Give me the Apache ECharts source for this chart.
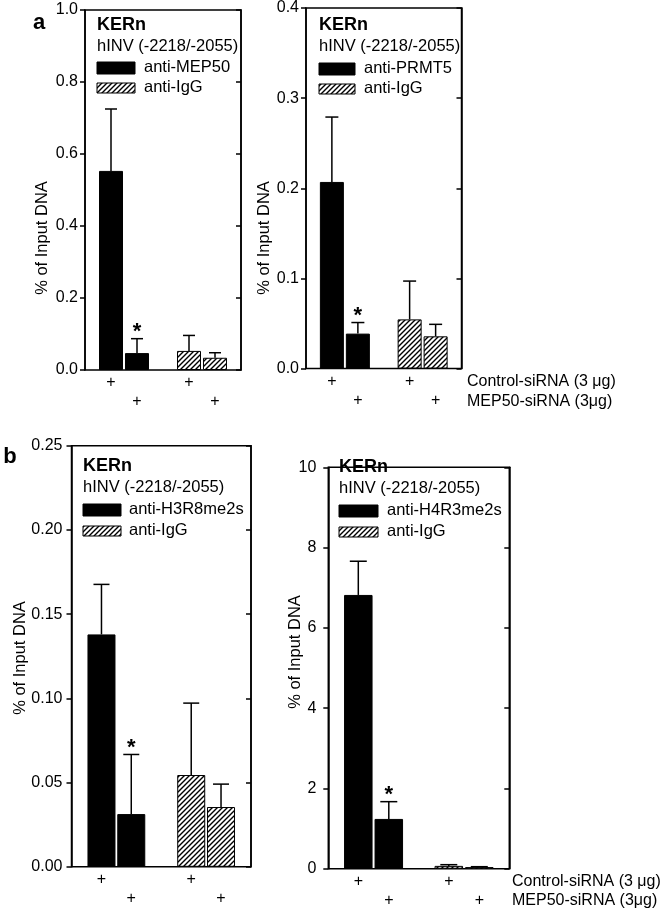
<!DOCTYPE html>
<html>
<head>
<meta charset="utf-8">
<script src="https://cdn.jsdelivr.net/npm/echarts@6/dist/echarts.min.js"></script>
<style>
html,body{margin:0;padding:0;background:#fff;}
#chart{width:669px;height:912px;}
</style>
</head>
<body>
<div id="chart"></div>
<script>
// ---------- DATA ----------
const groupCategories = ['specific', 'IgG'];

// Panel a (left): anti-MEP50 vs anti-IgG
const aL_antibody = 'anti-MEP50';
const aL_control = [0.553, 0.053];
const aL_controlErr = [0.172, 0.043];
const aL_mep50 = [0.047, 0.034];
const aL_mep50Err = [0.040, 0.014];
const aL_mep50Star = [true, false];
const aL_yTicks = ['0.0', '0.2', '0.4', '0.6', '0.8', '1.0'];

// Panel a (right): anti-PRMT5 vs anti-IgG
const aR_antibody = 'anti-PRMT5';
const aR_control = [0.207, 0.0545];
const aR_controlErr = [0.072, 0.0425];
const aR_mep50 = [0.0387, 0.0357];
const aR_mep50Err = [0.0123, 0.0133];
const aR_mep50Star = [true, false];
const aR_yTicks = ['0.0', '0.1', '0.2', '0.3', '0.4'];

// Panel b (left): anti-H3R8me2s vs anti-IgG
const bL_antibody = 'anti-H3R8me2s';
const bL_control = [0.138, 0.0545];
const bL_controlErr = [0.0297, 0.0427];
const bL_mep50 = [0.0313, 0.0355];
const bL_mep50Err = [0.0354, 0.0136];
const bL_mep50Star = [true, false];
const bL_yTicks = ['0.00', '0.05', '0.10', '0.15', '0.20', '0.25'];

// Panel b (right): anti-H4R3me2s vs anti-IgG
const bR_antibody = 'anti-H4R3me2s';
const bR_control = [6.82, 0.07];
const bR_controlErr = [0.84, 0.03];
const bR_mep50 = [1.24, 0.04];
const bR_mep50Err = [0.43, 0.01];
const bR_mep50Star = [true, false];
const bR_yTicks = ['0', '2', '4', '6', '8', '10'];

const yTitle = '% of Input DNA';
const titleBold = 'KERn';
const titleRegion = 'hINV (-2218/-2055)';
const igLabel = 'anti-IgG';
const rowLabels = ['Control-siRNA (3 \u03bcg)', 'MEP50-siRNA (3\u03bcg)'];
const panelLetters = ['a', 'b'];

// ---------- STYLE / LAYOUT ----------
const FONT = '"Liberation Sans", Arial, Helvetica, sans-serif';

function makeHatch() {
  const s = 5;
  const c = document.createElement('canvas');
  c.width = s; c.height = s;
  const g = c.getContext('2d');
  g.fillStyle = '#fff'; g.fillRect(0, 0, s, s);
  g.strokeStyle = '#000'; g.lineWidth = 1.4;
  g.beginPath();
  g.moveTo(-1, s + 1); g.lineTo(s + 1, -1);
  g.moveTo(-1, 1); g.lineTo(1, -1);
  g.moveTo(s - 1, s + 1); g.lineTo(s + 1, s - 1);
  g.stroke();
  return c;
}
const hatchCanvas = makeHatch();
const hatch = () => ({ image: hatchCanvas, repeat: 'repeat' });

const panels = [
  { antibody: aL_antibody, ctrl: aL_control, ctrlErr: aL_controlErr, mep: aL_mep50, mepErr: aL_mep50Err, star: aL_mep50Star, ticks: aL_yTicks, interval: 0.2,
    grid: { left: 85, top: 10, width: 156, height: 360 }, barW: 24, gapPx: 2, cap: 12, labelMargin: 7,
    legend: { x: 97, tx: 144, yK: 27, yH: 47, y1: 68, y2: 88, w: 38 },
    ytitle: { x: 42, y: 238 } },
  { antibody: aR_antibody, ctrl: aR_control, ctrlErr: aR_controlErr, mep: aR_mep50, mepErr: aR_mep50Err, star: aR_mep50Star, ticks: aR_yTicks, interval: 0.1,
    grid: { left: 306, top: 6.5, width: 155.5, height: 362 }, barW: 24, gapPx: 2, cap: 13, labelMargin: 7,
    legend: { x: 319, tx: 364, yK: 27, yH: 47, y1: 69, y2: 89, w: 36 },
    ytitle: { x: 264, y: 238 } },
  { antibody: bL_antibody, ctrl: bL_control, ctrlErr: bL_controlErr, mep: bL_mep50, mepErr: bL_mep50Err, star: bL_mep50Star, ticks: bL_yTicks, interval: 0.05,
    grid: { left: 71.5, top: 445.8, width: 179.5, height: 421 }, barW: 28, gapPx: 1.8, cap: 16, labelMargin: 9,
    legend: { x: 83, tx: 129, yK: 468, yH: 488, y1: 510, y2: 531, w: 38 },
    ytitle: { x: 20, y: 658 } },
  { antibody: bR_antibody, ctrl: bR_control, ctrlErr: bR_controlErr, mep: bR_mep50, mepErr: bR_mep50Err, star: bR_mep50Star, ticks: bR_yTicks, interval: 2,
    grid: { left: 328.3, top: 467.3, width: 181, height: 401.4 }, barW: 28.5, gapPx: 2, cap: 17, labelMargin: 12,
    legend: { x: 339, tx: 387, yK: 469, yH: 489, y1: 511, y2: 532, w: 39 },
    ytitle: { x: 295, y: 652 } }
];

const grids = [], xAxes = [], yAxes = [], series = [], graphics = [];

panels.forEach((p, i) => {
  grids.push(Object.assign({ show: true, borderColor: '#000', borderWidth: 1.5, backgroundColor: 'transparent' }, p.grid));
  xAxes.push({
    type: 'category', gridIndex: i, data: groupCategories,
    axisLine: { show: false }, axisTick: { show: false }, axisLabel: { show: false }
  });
  const maxV = (p.ticks.length - 1) * p.interval;
  const ticks = p.ticks, interval = p.interval;
  yAxes.push({
    type: 'value', gridIndex: i, min: 0, max: maxV, interval: interval, position: 'left',
    axisLine: { show: true, lineStyle: { color: '#000', width: 1.5 } },
    axisTick: { show: true, inside: false, length: 5, lineStyle: { color: '#000', width: 1.5 } },
    axisLabel: { margin: p.labelMargin, color: '#000', fontSize: 16, fontFamily: FONT,
      formatter: v => ticks[Math.round(v / interval)] },
    splitLine: { show: false }
  });
  yAxes.push({
    type: 'value', gridIndex: i, min: 0, max: maxV, interval: interval, position: 'right',
    axisLine: { show: true, lineStyle: { color: '#000', width: 1.5 } },
    axisTick: { show: true, inside: true, length: 5, lineStyle: { color: '#000', width: 1.5 } },
    axisLabel: { show: false }, splitLine: { show: false }
  });
  const yi = i * 2;
  const barGap = (p.gapPx / p.barW * 100).toFixed(2) + '%';
  const styleFor = (k) => k === 0 ? { color: '#000', borderColor: '#000', borderWidth: 1 } : { color: hatch(), borderColor: '#000', borderWidth: 1 };
  series.push({
    type: 'bar', xAxisIndex: i, yAxisIndex: yi, barWidth: p.barW, barGap: barGap,
    data: p.ctrl.map((v, k) => ({ value: v, itemStyle: styleFor(k) })), silent: true
  });
  series.push({
    type: 'bar', xAxisIndex: i, yAxisIndex: yi, barWidth: p.barW, barGap: barGap,
    data: p.mep.map((v, k) => ({ value: v, itemStyle: styleFor(k) })), silent: true
  });
  const errData = [];
  p.ctrl.forEach((v, k) => errData.push([k, v, p.ctrlErr[k], 0, 0]));
  p.mep.forEach((v, k) => errData.push([k, v, p.mepErr[k], 1, p.star[k] ? 1 : 0]));
  const off = (p.barW + p.gapPx) / 2;
  series.push({
    type: 'custom', xAxisIndex: i, yAxisIndex: yi, silent: true, clip: false,
    encode: { x: 0, y: 1 },
    data: errData,
    renderItem: (params, api) => {
      const cat = api.value(0), v = api.value(1), e = api.value(2), row = api.value(3), st = api.value(4);
      const b = api.coord([cat, v]);
      const t = api.coord([cat, v + e]);
      const z = api.coord([cat, 0]);
      const x = b[0] + (row === 0 ? -off : off);
      const ls = { stroke: '#000', lineWidth: 1.5 };
      const children = [
        { type: 'line', shape: { x1: x, y1: b[1], x2: x, y2: t[1] }, style: ls },
        { type: 'line', shape: { x1: x - p.cap / 2, y1: t[1], x2: x + p.cap / 2, y2: t[1] }, style: ls },
        { type: 'text', style: { text: '+', x: x, y: z[1] + (row === 0 ? 13 : 32), textAlign: 'center', textVerticalAlign: 'middle', font: '16px ' + FONT, fill: '#000' } }
      ];
      if (st) {
        children.push({ type: 'text', style: { text: '*', x: x, y: t[1] - 7, textAlign: 'center', textVerticalAlign: 'middle', font: 'bold 22px ' + FONT, fill: '#000' } });
      }
      return { type: 'group', children: children };
    }
  });
  // legend block (text, not data)
  const L = p.legend;
  graphics.push({ type: 'text', left: L.x, top: L.yK - 11, style: { text: titleBold, font: 'bold 18px ' + FONT, fill: '#000' } });
  graphics.push({ type: 'text', left: L.x, top: L.yH - 9, style: { text: titleRegion, font: '16.5px ' + FONT, fill: '#000' } });
  graphics.push({ type: 'rect', shape: { x: L.x, y: L.y1 - 6, width: L.w, height: 12 }, style: { fill: '#000', stroke: '#000', lineWidth: 1 } });
  graphics.push({ type: 'text', left: L.tx, top: L.y1 - 9, style: { text: p.antibody, font: '16.5px ' + FONT, fill: '#000' } });
  graphics.push({ type: 'rect', shape: { x: L.x, y: L.y2 - 5, width: L.w, height: 10 }, style: { fill: hatch(), stroke: '#000', lineWidth: 1 } });
  graphics.push({ type: 'text', left: L.tx, top: L.y2 - 9, style: { text: igLabel, font: '16.5px ' + FONT, fill: '#000' } });
  graphics.push({ type: 'text', x: p.ytitle.x, y: p.ytitle.y, rotation: Math.PI / 2,
    style: { text: yTitle, font: '16.5px ' + FONT, fill: '#000', textAlign: 'center', textVerticalAlign: 'middle' } });
});

// row labels and panel letters
[[467, 382, 402], [512, 882, 901]].forEach(r => {
  graphics.push({ type: 'text', x: r[0], y: r[1], style: { text: rowLabels[0], font: '16px ' + FONT, fill: '#000', textVerticalAlign: 'middle' } });
  graphics.push({ type: 'text', x: r[0], y: r[2], style: { text: rowLabels[1], font: '16px ' + FONT, fill: '#000', textVerticalAlign: 'middle' } });
});
graphics.push({ type: 'text', x: 39, y: 23, style: { text: panelLetters[0], font: 'bold 22px ' + FONT, fill: '#000', textAlign: 'center', textVerticalAlign: 'middle' } });
graphics.push({ type: 'text', x: 10, y: 457, style: { text: panelLetters[1], font: 'bold 22px ' + FONT, fill: '#000', textAlign: 'center', textVerticalAlign: 'middle' } });

const chart = echarts.init(document.getElementById('chart'), null, { renderer: 'canvas' });
chart.setOption({
  animation: false,
  backgroundColor: '#fff',
  grid: grids, xAxis: xAxes, yAxis: yAxes, series: series, graphic: graphics
});
</script>
</body>
</html>
